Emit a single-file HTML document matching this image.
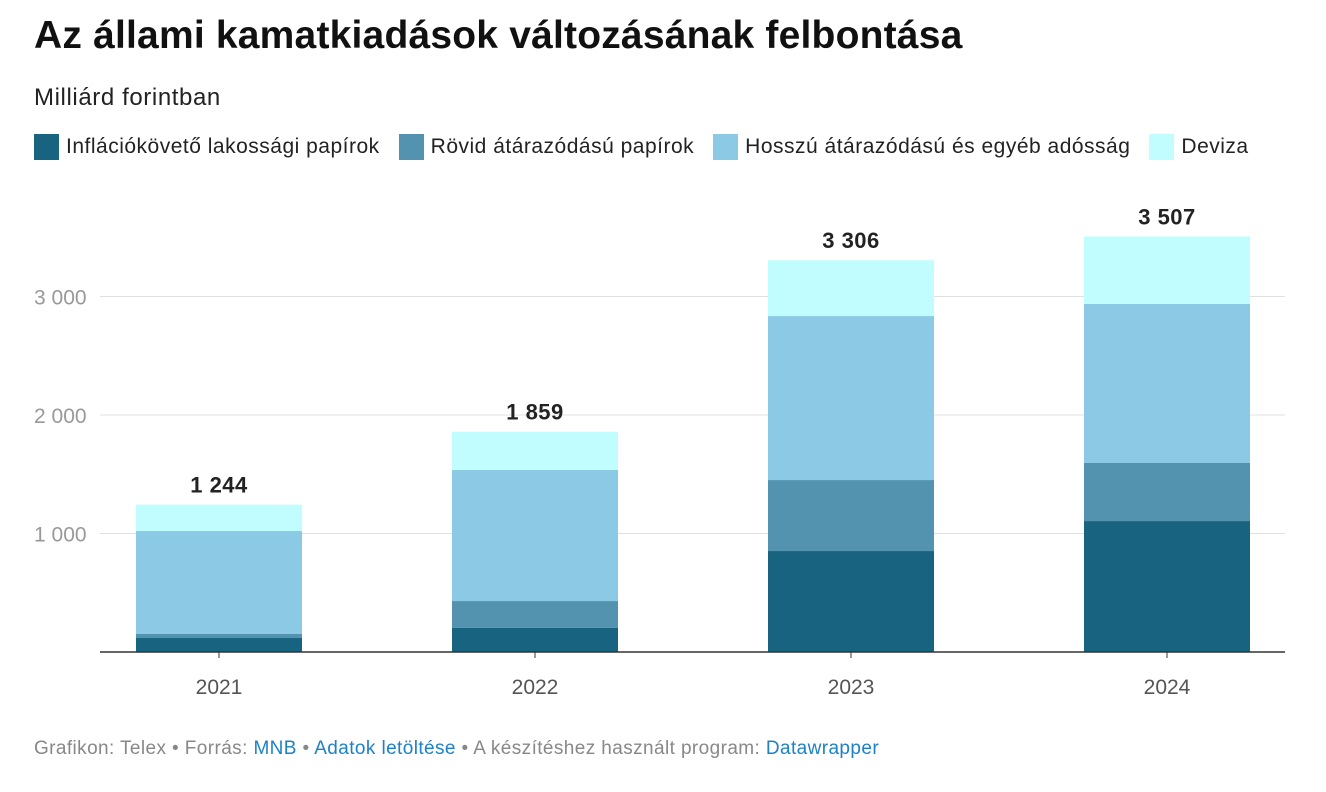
<!DOCTYPE html>
<html><head><meta charset="utf-8">
<style>
body{margin:0;background:#fff;font-family:"Liberation Sans",sans-serif;}
#wrap{position:relative;width:1326px;height:792px;overflow:hidden}
h1{position:absolute;left:34px;top:14px;margin:0;font-size:39px;font-weight:bold;color:#111;letter-spacing:0.2px}
.sub{position:absolute;left:34px;top:84px;font-size:24px;color:#222;letter-spacing:0.6px}
.legend{position:absolute;left:34px;top:134px;display:flex;font-size:21px;color:#222;align-items:center;letter-spacing:0.5px}
.li{display:flex;align-items:center;margin-right:19px}
.sw{width:25px;height:26px;margin-right:7px}
.foot{position:absolute;left:34px;top:738px;font-size:19px;color:#888;letter-spacing:0.4px}
.foot a{color:#1d81c7;text-decoration:none}
</style></head><body>
<div id="wrap">
<h1>Az állami kamatkiadások változásának felbontása</h1>
<div class="sub">Milliárd forintban</div>
<div class="legend">
<div class="li"><div class="sw" style="background:#176380"></div>Inflációkövető lakossági papírok</div>
<div class="li"><div class="sw" style="background:#5393b0"></div>Rövid átárazódású papírok</div>
<div class="li"><div class="sw" style="background:#8bc9e5"></div>Hosszú átárazódású és egyéb adósság</div>
<div class="li"><div class="sw" style="background:#c1fdff"></div>Deviza</div>
</div>
<svg id="svg" width="1326" height="792" style="position:absolute;left:0;top:0"></svg>
<div class="foot">Grafikon: Telex • Forrás: <a href="#">MNB</a> • <a href="#">Adatok letöltése</a> • A készítéshez használt program: <a href="#">Datawrapper</a></div>
</div>
<script>
const categories=["2021","2022","2023","2024"];
const inflacio=[118,203,852,1105];
const rovid=[34,227,599,490];
const hosszu=[869,1106,1384,1342];
const deviza=[223,323,471,570];
const totals=["1 244","1 859","3 306","3 507"];
const yTicks=[1000,2000,3000];
const yTickLabels=["1 000","2 000","3 000"];
const series=[inflacio,rovid,hosszu,deviza];
const colors=["#176380","#5393b0","#8bc9e5","#c1fdff"];
const names=["inflation","short","long","fx"];
const svg=document.getElementById('svg');const NS="http://www.w3.org/2000/svg";
const x0=100,x1=1285,base=652,pxPer=0.1185;
const y=v=>base-v*pxPer;
const bandStart=61,band=316,bw=166;
function mk(t,a){const e=document.createElementNS(NS,t);for(const k in a)e.setAttribute(k,a[k]);svg.appendChild(e);return e;}
yTicks.forEach((t,i)=>{
 const g=mk('line',{x1:x0,x2:x1,y1:y(t),y2:y(t),stroke:'#e0e0e0','stroke-width':1});
 
 
 const tx=mk('text',{x:34,y:y(t)+8,'font-size':21,fill:'#999'});tx.textContent=yTickLabels[i];
 
 
});
categories.forEach((c,i)=>{
 const cx=bandStart+band*(i+0.5);let cum=0;
 series.forEach((s,j)=>{
  const r=mk('rect',{x:cx-bw/2,y:y(cum+s[i]),width:bw,height:s[i]*pxPer,fill:colors[j]});
  
  
  cum+=s[i];
 });
 const tl=mk('text',{x:cx,y:y(cum)-12,'font-size':22,'font-weight':'bold',fill:'#222','text-anchor':'middle','letter-spacing':'0.5'});tl.textContent=totals[i];
 
 
 const tk=mk('line',{x1:cx,x2:cx,y1:base,y2:base+6,stroke:'#333'});
 
 
 const xl=mk('text',{x:cx,y:base+42,'font-size':21,fill:'#555','text-anchor':'middle'});xl.textContent=c;
 
 
});
const ax=mk('line',{x1:x0,x2:x1,y1:base,y2:base,stroke:'#333','stroke-width':1.5});


</script>
</body></html>
